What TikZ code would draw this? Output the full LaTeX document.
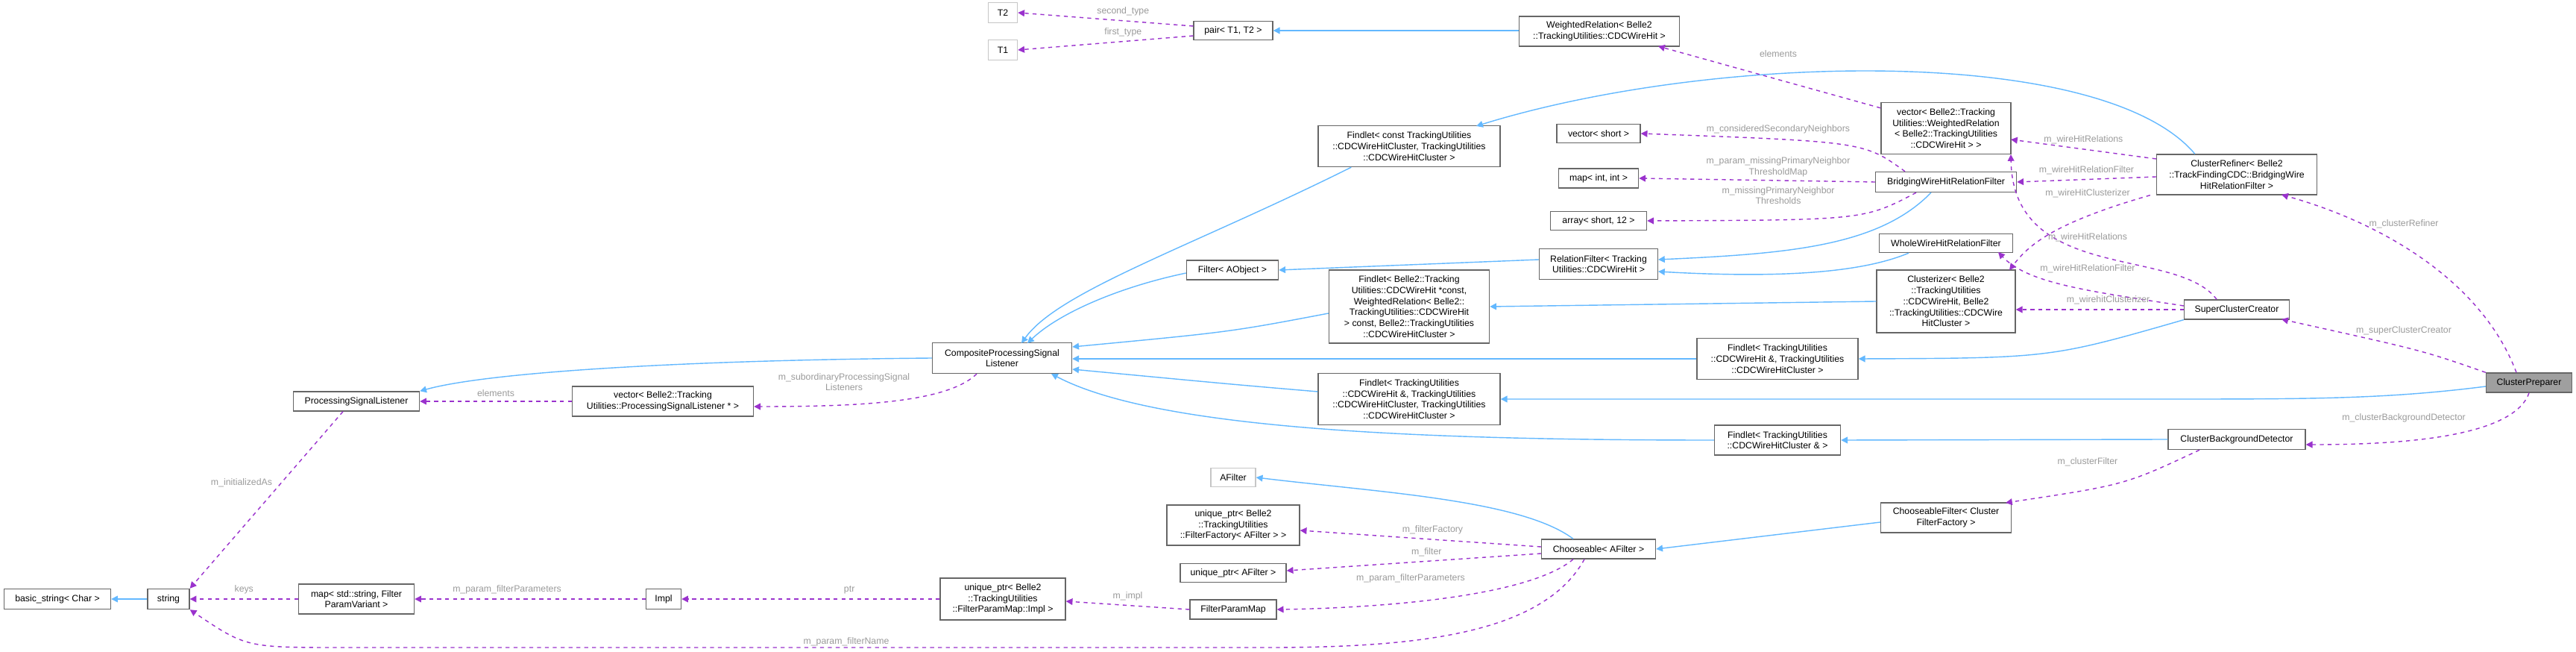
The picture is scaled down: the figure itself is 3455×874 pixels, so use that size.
\documentclass[tikz,border=0pt]{standalone}
\usepackage{fontspec}
\setmainfont{Liberation Sans}
\usetikzlibrary{arrows.meta}
\definecolor{inhcol}{HTML}{63B8FF}
\definecolor{usecol}{HTML}{9A32CD}
\definecolor{lblcol}{HTML}{9A9A9A}
\definecolor{boxcol}{HTML}{666666}
\begin{document}
\begin{tikzpicture}[
    x=0.02cm, y=-0.02cm,
    cls/.style={draw=boxcol, fill=white, thick, align=center, inner sep=1pt,
      font=\fontsize{7}{8.4}\selectfont},
    ext/.style={cls, draw=gray!45},
    sz/.style 2 args={minimum width=#1*0.02cm, minimum height=#2*0.02cm},
    inh/.style={draw=inhcol, thick, -{Triangle[length=5pt,width=5pt]}},
    use/.style={draw=usecol, thick, dashed, -{Triangle[length=5pt,width=5pt]}},
    lbl/.style={text=lblcol, font=\fontsize{7}{8.4}\selectfont, align=center}
  ]
  \useasboundingbox (0,0) rectangle (3455,874);

  % Classes
  \node[ext, sz={39}{27}] (t2) at (1345,17) {T2};
  \node[ext, sz={39}{27}] (t1) at (1345,67) {T1};
  \node[cls, sz={106}{25}] (pair) at (1654,41) {pair< T1, T2 >};
  \node[cls, sz={215}{40}] (wrel) at (2145,42) {WeightedRelation< Belle2\\::TrackingUtilities::CDCWireHit >};
  \node[cls, sz={244}{55}] (fconst) at (1890,196) {Findlet< const TrackingUtilities\\::CDCWireHitCluster, TrackingUtilities\\::CDCWireHitCluster >};
  \node[cls, sz={112}{25}] (vshort) at (2144,179) {vector< short >};
  \node[cls, sz={107}{26}] (mapint) at (2144,239) {map< int, int >};
  \node[cls, sz={129}{25}] (arr) at (2144,296) {array< short, 12 >};
  \node[cls, sz={159}{41}] (relf) at (2144,354) {RelationFilter< Tracking\\Utilities::CDCWireHit >};
  \node[cls, sz={123}{26}] (filt) at (1653,362) {Filter< AObject >};
  \node[cls, sz={215}{98}] (fsix) at (1890,411) {Findlet< Belle2::Tracking\\Utilities::CDCWireHit *const,\\WeightedRelation< Belle2::\\TrackingUtilities::CDCWireHit\\> const, Belle2::TrackingUtilities\\::CDCWireHitCluster >};
  \node[cls, sz={187}{41}] (comp) at (1344,480) {CompositeProcessingSignal\\Listener};
  \node[cls, sz={216}{55}] (fthree) at (2384,481) {Findlet< TrackingUtilities\\::CDCWireHit \&, TrackingUtilities\\::CDCWireHitCluster >};
  \node[cls, sz={244}{69}] (ffour) at (1890,535) {Findlet< TrackingUtilities\\::CDCWireHit \&, TrackingUtilities\\::CDCWireHitCluster, TrackingUtilities\\::CDCWireHitCluster >};
  \node[cls, sz={169}{40}] (fclus) at (2384,590) {Findlet< TrackingUtilities\\::CDCWireHitCluster \& >};
  \node[cls, sz={169}{26}] (psl) at (478,538) {ProcessingSignalListener};
  \node[cls, sz={243}{40}] (vpsl) at (889,538) {vector< Belle2::Tracking\\Utilities::ProcessingSignalListener * >};
  \node[ext, sz={60}{25}] (afilt) at (1654,640) {AFilter};
  \node[cls, sz={178}{54}] (upff) at (1654,704) {unique\_ptr< Belle2\\::TrackingUtilities\\::FilterFactory< AFilter > >};
  \node[cls, sz={142}{25}] (upaf) at (1654,768) {unique\_ptr< AFilter >};
  \node[cls, sz={153}{26}] (choose) at (2144,736) {Chooseable< AFilter >};
  \node[cls, sz={175}{40}] (cfilt) at (2610,694) {ChooseableFilter< Cluster\\FilterFactory >};
  \node[cls, sz={116}{26}] (fpm) at (1654,817) {FilterParamMap};
  \node[cls, sz={168}{56}] (upimpl) at (1345,803) {unique\_ptr< Belle2\\::TrackingUtilities\\::FilterParamMap::Impl >};
  \node[cls, sz={47}{27}] (impl) at (890,803) {Impl};
  \node[cls, sz={155}{40}] (mapstr) at (478,803) {map< std::string, Filter\\ParamVariant >};
  \node[cls, sz={56}{27}] (str) at (226,803) {string};
  \node[cls, sz={143}{27}] (bstr) at (77,803) {basic\_string< Char >};
  \node[cls, sz={174}{69}] (vwrel) at (2610,172) {vector< Belle2::Tracking\\Utilities::WeightedRelation\\< Belle2::TrackingUtilities\\::CDCWireHit > >};
  \node[cls, sz={189}{27}] (bridge) at (2610,244) {BridgingWireHitRelationFilter};
  \node[cls, sz={179}{25}] (whole) at (2610,326) {WholeWireHitRelationFilter};
  \node[cls, sz={186}{84}] (clz) at (2610,404) {Clusterizer< Belle2\\::TrackingUtilities\\::CDCWireHit, Belle2\\::TrackingUtilities::CDCWire\\HitCluster >};
  \node[cls, sz={215}{54}] (refiner) at (3000,234) {ClusterRefiner< Belle2\\::TrackFindingCDC::BridgingWire\\HitRelationFilter >};
  \node[cls, sz={141}{26}] (scc) at (3000,415) {SuperClusterCreator};
  \node[cls, sz={184}{27}] (cbd) at (3000,589) {ClusterBackgroundDetector};
  \node[cls, fill=gray!75, sz={115}{26}] (prep) at (3392,513) {ClusterPreparer};

  % Inheritance
  \draw[inh] (wrel.west |- pair) -- (pair);
  \draw[inh] (fconst.south west) ++(45,0) .. controls (1600,330) and (1420,390) .. (1370,460);
  \draw[inh] (filt.west) ++(0,4) .. controls (1500,385) and (1420,420) .. (1378,460);
  \draw[inh] (fsix.west) ++(0,9) .. controls (1650,445) .. (comp.east |- 0,465);
  \draw[inh] (ffour.west) ++(0,-10) .. controls (1650,515) .. (comp.east |- 0,495);
  \draw[inh] (fclus.west) .. controls (1900,590) and (1550,575) .. (1410,501);
  \draw[inh] (fthree.west) -- (comp.east |- fthree);
  \draw[inh] (comp.west) .. controls (900,483) and (650,500) .. (psl.north east);
  \draw[inh] (str) -- (bstr);
  \draw[inh] (relf.west) ++(0,-6) -- (filt.east);
  \draw[inh] (bridge.south) ++(-20,0) .. controls (2520,330) and (2400,340) .. (2224,348);
  \draw[inh] (whole.south) ++(-50,0) .. controls (2510,360) and (2420,375) .. (2224,364);
  \draw[inh] (clz.west) -- (fsix.east);
  \draw[inh] (refiner.north west) ++(52,0) .. controls (2820,60) and (2300,70) .. (1980,169);
  \draw[inh] (scc.south west) .. controls (2750,480) .. (fthree.east);
  \draw[inh] (prep.west) ++(0,5) .. controls (3200,535) and (3100,535) .. (2900,535) -- (ffour.east);
  \draw[inh] (cbd.west) -- (fclus.east);
  \draw[inh] (cfilt.west) ++(0,6) -- (choose.east);
  \draw[inh] (choose.north) ++(-34,0) .. controls (2040,670) and (1850,660) .. (afilt.east);

  % Members
  \draw[use] (pair.west) ++(0,-6) -- (t2.east) node[lbl, pos=0.4, above] {second\_type};
  \draw[use] (pair.west) ++(0,7) -- (t1.east) node[lbl, pos=0.4, above] {first\_type};
  \draw[use] (vwrel.north west) ++(0,8) -- (2224,62);
  \node[lbl] (lel) at (2385,72) {elements};
  \draw[use] (bridge.north) ++(-55,0) .. controls (2500,190) .. (vshort.east);
  \node[lbl] (lcons) at (2385,173) {m\_consideredSecondaryNeighbors};
  \draw[use] (bridge.west) -- (mapint.east);
  \node[lbl] (lmiss) at (2385,224) {m\_param\_missingPrimaryNeighbor\\ThresholdMap};
  \draw[use] (bridge.south) ++(-40,0) .. controls (2500,295) .. (arr.east);
  \node[lbl] (lmprim) at (2385,262) {m\_missingPrimaryNeighbor\\Thresholds};
  \draw[use] (refiner.west) ++(0,-21) -- (2697,187) node[lbl, pos=0.5, above] {m\_wireHitRelations};
  \draw[use] (refiner.west) ++(0,3) -- (bridge.east) node[lbl, pos=0.5, above] {m\_wireHitRelationFilter};
  \draw[use] (refiner.south west) ++(-8,0) .. controls (2750,300) and (2720,330) .. (2695,362);
  \node[lbl] (lclz) at (2800,259) {m\_wireHitClusterizer};
  \draw[use] (scc.north) ++(-27,0) .. controls (2920,330) and (2700,380) .. (2697,207);
  \node[lbl] (lrel) at (2800,318) {m\_wireHitRelations};
  \draw[use] (scc.west) ++(0,-5) .. controls (2800,390) and (2720,380) .. (2680,338);
  \node[lbl] (lrelf) at (2800,360) {m\_wireHitRelationFilter};
  \draw[use] (scc.west) -- (clz.east |- scc) node[lbl, pos=0.45, above] {m\_wirehitClusterizer};
  \draw[use] (prep.north) ++(-17,0) .. controls (3330,380) and (3200,300) .. (3060,261);
  \node[lbl] (lref) at (3224,300) {m\_clusterRefiner};
  \draw[use] (prep.north west) .. controls (3250,470) .. (3060,428);
  \node[lbl] (lscc) at (3224,443) {m\_superClusterCreator};
  \draw[use] (prep.south) .. controls (3370,590) and (3200,596) .. (cbd.east |- 0,596);
  \node[lbl] (lcbd) at (3224,560) {m\_clusterBackgroundDetector};
  \draw[use] (cbd.south) ++(-50,0) .. controls (2850,650) .. (2690,674);
  \node[lbl] (lcf) at (2800,619) {m\_clusterFilter};
  \draw[use] (choose.west) ++(0,-3) -- (upff.east |- 0,711) node[lbl, pos=0.45, above] {m\_filterFactory};
  \draw[use] (choose.west) ++(0,6) -- (upaf.east |- 0,765) node[lbl, pos=0.45, above] {m\_filter};
  \draw[use] (choose.south) ++(-34,0) .. controls (2050,800) and (1850,815) .. (fpm.east);
  \node[lbl] (lfpp) at (1892,775) {m\_param\_filterParameters};
  \draw[use] (choose.south) ++(-19,0) .. controls (2070,850) and (1900,868) .. (1700,868) -- (460,868) .. controls (330,868) .. (str.south east);
  \node[lbl] (lfn) at (1135,860) {m\_param\_filterName};
  \draw[use] (fpm.west) -- (upimpl.east |- 0,806) node[lbl, pos=0.5, above] {m\_impl};
  \draw[use] (upimpl.west) -- (impl.east) node[lbl, pos=0.35, above] {ptr};
  \draw[use] (impl.west) -- (mapstr.east) node[lbl, pos=0.6, above] {m\_param\_filterParameters};
  \draw[use] (mapstr.west) -- (str.east) node[lbl, pos=0.5, above] {keys};
  \draw[use] (vpsl.west) -- (psl.east) node[lbl, pos=0.5, above] {elements};
  \draw[use] (comp.south) ++(-34,0) .. controls (1270,540) and (1150,545) .. (vpsl.east |- 0,545);
  \node[lbl] (lsub) at (1132,512) {m\_subordinaryProcessingSignal\\Listeners};
  \draw[use] (psl.south) ++(-18,0) -- (str.north east);
  \node[lbl] (linit) at (324,647) {m\_initializedAs};
\end{tikzpicture}
\end{document}
